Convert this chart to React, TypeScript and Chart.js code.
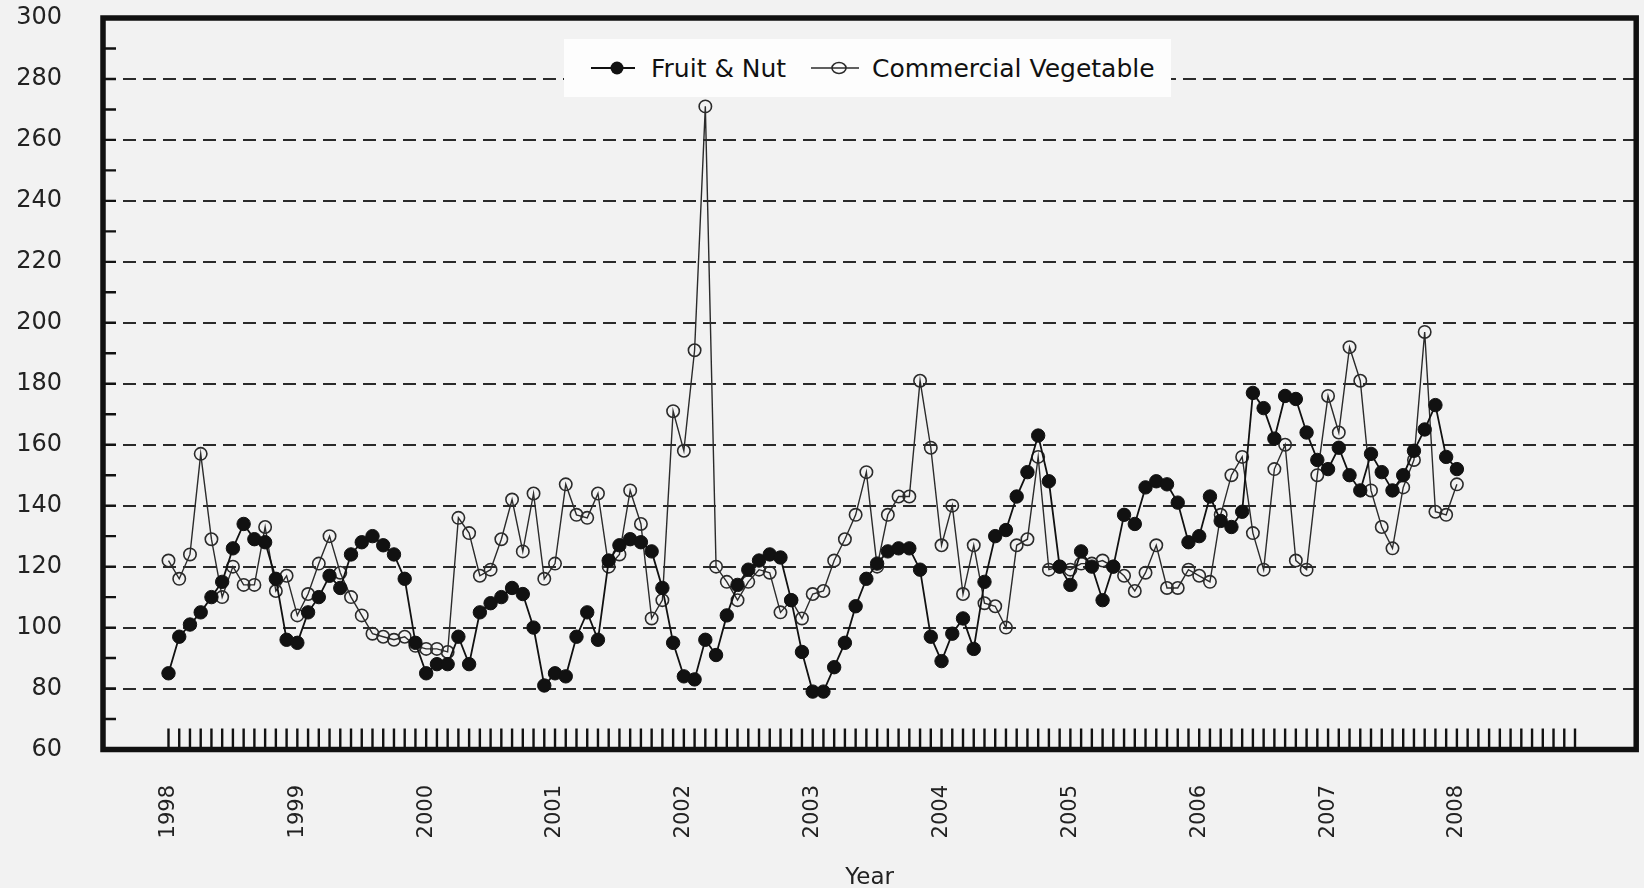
import React, { useEffect, useRef } from 'react';
import { Chart, registerables } from 'chart.js';

Chart.register(...registerables);

// Monthly index values, Jan 1998 .. Jan 2008
const fruitNut = [
  85, 97, 101, 105, 110, 115, 126, 134, 129, 128, 116, 96,
  95, 105, 110, 117, 113, 124, 128, 130, 127, 124, 116, 95,
  85, 88, 88, 97, 88, 105, 108, 110, 113, 111, 100, 81,
  85, 84, 97, 105, 96, 122, 127, 129, 128, 125, 113, 95,
  84, 83, 96, 91, 104, 114, 119, 122, 124, 123, 109, 92,
  79, 79, 87, 95, 107, 116, 121, 125, 126, 126, 119, 97,
  89, 98, 103, 93, 115, 130, 132, 143, 151, 163, 148, 120,
  114, 125, 120, 109, 120, 137, 134, 146, 148, 147, 141, 128,
  130, 143, 135, 133, 138, 177, 172, 162, 176, 175, 164, 155,
  152, 159, 150, 145, 157, 151, 145, 150, 158, 165, 173, 156,
  152,
];

const commercialVegetable = [
  122, 116, 124, 157, 129, 110, 120, 114, 114, 133, 112, 117,
  104, 111, 121, 130, 118, 110, 104, 98, 97, 96, 97, 94,
  93, 93, 92, 136, 131, 117, 119, 129, 142, 125, 144, 116,
  121, 147, 137, 136, 144, 120, 124, 145, 134, 103, 109, 171,
  158, 191, 271, 120, 115, 109, 115, 119, 118, 105, 109, 103,
  111, 112, 122, 129, 137, 151, 120, 137, 143, 143, 181, 159,
  127, 140, 111, 127, 108, 107, 100, 127, 129, 156, 119, 120,
  119, 121, 121, 122, 120, 117, 112, 118, 127, 113, 113, 119,
  117, 115, 137, 150, 156, 131, 119, 152, 160, 122, 119, 150,
  176, 164, 192, 181, 145, 133, 126, 146, 155, 197, 138, 137,
  147,
];

const yearLabels = ['1998', '1999', '2000', '2001', '2002', '2003', '2004', '2005', '2006', '2007', '2008'];
const seriesNames = ['Fruit & Nut', 'Commercial Vegetable'];

const Y_MIN = 60;
const Y_MAX = 300;
const Y_STEP = 20;
const X_MIN = -6.1;   // months relative to Jan 1998
const X_MAX = 136.7;
const MONTH_TICKS = 132; // Jan 1998 .. Dec 2008

const FONT = "'DejaVu Sans', Verdana, sans-serif";

export default function App() {
  const ref = useRef<HTMLCanvasElement | null>(null);

  useEffect(() => {
    if (!ref.current) return;
    const toPoints = (arr: number[]) => arr.map((v, i) => ({ x: i, y: v }));

    const decor = {
      id: 'decor',
      beforeDraw(chart: any) {
        const { ctx, width, height } = chart;
        ctx.save();
        ctx.fillStyle = '#f2f2f2';
        ctx.fillRect(0, 0, width, height);
        ctx.restore();
      },
      afterDatasetsDraw(chart: any) {
        const { ctx, chartArea: a, scales } = chart;
        const x = scales.x;
        const y = scales.y;
        ctx.save();
        ctx.strokeStyle = '#111';
        ctx.lineWidth = 2.4;
        ctx.beginPath();
        for (let m = 0; m < MONTH_TICKS; m++) {
          const px = x.getPixelForValue(m);
          ctx.moveTo(px, a.bottom);
          ctx.lineTo(px, a.bottom - 21);
        }
        for (let v = Y_MIN + 10; v < Y_MAX; v += 10) {
          const py = y.getPixelForValue(v);
          ctx.moveTo(a.left, py);
          ctx.lineTo(a.left + 13, py);
        }
        ctx.stroke();
        ctx.lineWidth = 5.5;
        ctx.strokeRect(a.left, a.top, a.right - a.left, a.bottom - a.top);
        ctx.restore();
      },
    };

    const chart = new Chart(ref.current, {
      type: 'line',
      data: {
        datasets: [
          {
            label: seriesNames[0],
            data: toPoints(fruitNut),
            borderColor: '#111',
            borderWidth: 1.8,
            pointRadius: 6.7,
            pointBackgroundColor: '#111',
            pointBorderColor: '#111',
            pointBorderWidth: 1,
            tension: 0,
          },
          {
            label: seriesNames[1],
            data: toPoints(commercialVegetable),
            borderColor: '#2b2b2b',
            borderWidth: 1.4,
            pointRadius: 6.2,
            pointBackgroundColor: 'rgba(0,0,0,0)',
            pointBorderColor: '#2b2b2b',
            pointBorderWidth: 1.6,
            tension: 0,
          },
        ],
      },
      options: {
        responsive: false,
        animation: false,
        devicePixelRatio: 1,
        layout: { padding: { top: 18, right: 2, left: 0, bottom: 0 } },
        plugins: {
          legend: { display: false },
          tooltip: { enabled: false },
        },
        scales: {
          x: {
            type: 'linear',
            min: X_MIN,
            max: X_MAX,
            afterBuildTicks: (scale: any) => {
              scale.ticks = yearLabels.map((_, i) => ({ value: i * 12 }));
            },
            afterFit: (scale: any) => {
              scale.height = 138.5;
              scale.paddingLeft = 0;
              scale.paddingRight = 0;
            },
            ticks: {
              autoSkip: false,
              minRotation: 90,
              maxRotation: 90,
              padding: 35.5,
              color: '#222',
              font: { family: FONT, size: 21 },
              callback: (_v: any, i: number) => yearLabels[i],
            },
            grid: { display: false, drawTicks: false },
            border: { display: false },
            title: {
              display: true,
              text: 'Year',
              color: '#222',
              font: { family: FONT, size: 23, lineHeight: 0.9 },
              padding: 0,
            },
          },
          y: {
            min: Y_MIN,
            max: Y_MAX,
            afterFit: (scale: any) => {
              scale.width = 103;
              scale.paddingTop = 0;
              scale.paddingBottom = 0;
            },
            ticks: {
              stepSize: Y_STEP,
              padding: 41,
              color: '#222',
              font: { family: FONT, size: 24 },
            },
            grid: {
              drawTicks: false,
              lineWidth: 2,
              color: (c: any) =>
                c.tick && (c.tick.value === Y_MIN || c.tick.value === Y_MAX) ? 'rgba(0,0,0,0)' : '#2a2a2a',
            },
            border: { display: false, dash: [13, 7] },
          },
        },
      },
      plugins: [decor],
    } as any);

    return () => chart.destroy();
  }, []);

  const textStyle: React.CSSProperties = {
    position: 'absolute',
    top: 0,
    height: 58,
    display: 'flex',
    alignItems: 'center',
    fontFamily: FONT,
    fontSize: 25,
    color: '#111',
    whiteSpace: 'nowrap',
  };

  return (
    <div style={{ position: 'fixed', left: 0, top: 0, width: 1644, height: 888, background: '#f2f2f2' }}>
      <canvas ref={ref} width={1644} height={888} style={{ display: 'block' }} />
      <div
        style={{
          position: 'absolute',
          left: 564,
          top: 39,
          width: 607,
          height: 58,
          background: '#fdfdfd',
        }}
      >
        <svg style={{ position: 'absolute', left: 27, top: 19 }} width={44} height={20}>
          <line x1={0} y1={10} x2={44} y2={10} stroke="#111" strokeWidth={2} />
          <circle cx={26} cy={10} r={6.5} fill="#111" />
        </svg>
        <div style={{ ...textStyle, left: 87 }}>{seriesNames[0]}</div>
        <svg style={{ position: 'absolute', left: 247, top: 19 }} width={48} height={20}>
          <line x1={0} y1={10} x2={48} y2={10} stroke="#2b2b2b" strokeWidth={1.6} />
          <ellipse cx={28} cy={10} rx={7} ry={5.5} fill="none" stroke="#2b2b2b" strokeWidth={1.6} />
        </svg>
        <div style={{ ...textStyle, left: 308 }}>{seriesNames[1]}</div>
      </div>
    </div>
  );
}
